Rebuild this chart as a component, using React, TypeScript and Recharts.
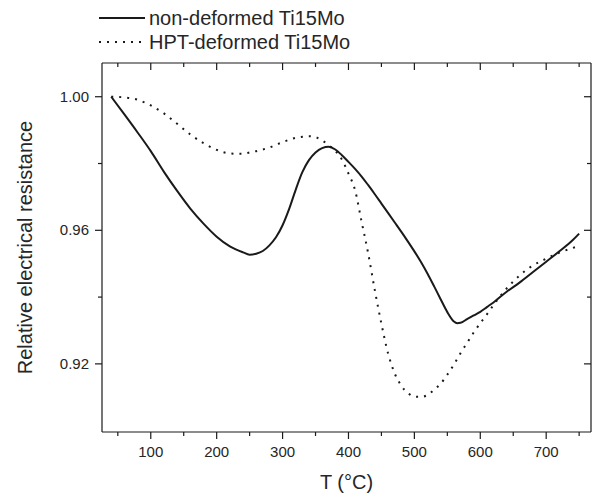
import React from 'react';
import { LineChart, Line, XAxis, YAxis, Legend } from 'recharts';

const temps = [40, 60, 80, 100, 120, 140, 160, 180, 200, 220, 240, 250, 260, 270, 280, 290, 300, 310, 320, 330, 340, 350, 360, 370, 380, 390, 400, 410, 420, 430, 440, 450, 460, 470, 480, 490, 500, 510, 520, 530, 540, 550, 560, 565, 570, 580, 590, 600, 610, 620, 640, 660, 680, 700, 720, 740, 750];

const nonDeformed = [1.0, 0.9947, 0.9893, 0.9837, 0.9775, 0.9718, 0.9665, 0.962, 0.9581, 0.9552, 0.9534, 0.9527, 0.953, 0.9538, 0.9555, 0.9579, 0.9615, 0.9664, 0.9722, 0.9774, 0.981, 0.9833, 0.9846, 0.985, 0.9842, 0.9825, 0.9805, 0.9784, 0.9761, 0.9735, 0.9708, 0.968, 0.9652, 0.9624, 0.9596, 0.9567, 0.9537, 0.9505, 0.947, 0.9432, 0.9393, 0.9355, 0.9327, 0.9322, 0.9323, 0.9334, 0.9345, 0.9356, 0.937, 0.9384, 0.9416, 0.9444, 0.9475, 0.9506, 0.9537, 0.957, 0.959];

const hptDeformed = [1.0, 0.9998, 0.9991, 0.9974, 0.995, 0.9919, 0.9887, 0.9861, 0.9841, 0.983, 0.9829, 0.9833, 0.9837, 0.9842, 0.9848, 0.9856, 0.9864, 0.9871, 0.9877, 0.988, 0.9882, 0.9879, 0.9869, 0.9855, 0.9838, 0.9812, 0.977, 0.972, 0.9625, 0.953, 0.942, 0.932, 0.9232, 0.9172, 0.9135, 0.9113, 0.9102, 0.9101, 0.9107, 0.9123, 0.9141, 0.9168, 0.9198, 0.9215, 0.9232, 0.9263, 0.9294, 0.9322, 0.9348, 0.9376, 0.9426, 0.9465, 0.9495, 0.9515, 0.9533, 0.9547, 0.9553];

const xTicks = [50, 100, 150, 200, 250, 300, 350, 400, 450, 500, 550, 600, 650, 700, 750];
const xLabels = [100, 200, 300, 400, 500, 600, 700];
const yTicks = [0.92, 0.94, 0.96, 0.98, 1.0];
const yLabels = [0.92, 0.96, 1.0];

const seriesNames = ['non-deformed Ti15Mo', 'HPT-deformed Ti15Mo'];

const data = temps.map((t, i) => ({ t, a: nonDeformed[i], b: hptDeformed[i] }));

const INK = '#1a1a1a';
const TXT = '#262626';
const FONT = 'Arial, "Liberation Sans", Helvetica, sans-serif';

const isMajorX = (v: number) => xLabels.includes(v);
const isMajorY = (v: number) => yLabels.some((l) => Math.abs(l - v) < 1e-9);

const BottomTick = (props: any) => {
  const { x, y, payload } = props;
  const v = payload.value;
  const major = isMajorX(v);
  return (
    <g>
      <line x1={x} x2={x} y1={y} y2={y + (major ? 7 : 4)} stroke={INK} strokeWidth={1.2} />
      {major && (
        <text x={x} y={y + 25} textAnchor="middle" fontSize={15} fill={TXT} fontFamily={FONT}>
          {v}
        </text>
      )}
    </g>
  );
};

const TopTick = (props: any) => {
  const { x, y, payload } = props;
  const major = isMajorX(payload.value);
  return <line x1={x} x2={x} y1={y} y2={y + (major ? 7 : 4)} stroke={INK} strokeWidth={1.2} />;
};

const LeftTick = (props: any) => {
  const { x, y, payload } = props;
  const v = payload.value;
  const major = isMajorY(v);
  return (
    <g>
      <line x1={x} x2={x - (major ? 7 : 4)} y1={y} y2={y} stroke={INK} strokeWidth={1.2} />
      {major && (
        <text x={x - 13} y={y + 5} textAnchor="end" fontSize={15} fill={TXT} fontFamily={FONT}>
          {v.toFixed(2)}
        </text>
      )}
    </g>
  );
};

const RightTick = (props: any) => {
  const { x, y, payload } = props;
  const major = isMajorY(payload.value);
  return <line x1={x} x2={x - (major ? 7 : 4)} y1={y} y2={y} stroke={INK} strokeWidth={1.2} />;
};

const LegendContent = () => (
  <div style={{ fontFamily: FONT, fontSize: 20, color: TXT, lineHeight: '24px' }}>
    {seriesNames.map((name, i) => (
      <div key={name} style={{ display: 'flex', alignItems: 'center', height: 24 }}>
        <svg width={51} height={24} style={{ display: 'block' }}>
          <line
            x1={1}
            x2={i === 0 ? 47 : 45}
            y1={12}
            y2={12}
            stroke={INK}
            strokeWidth={2}
            strokeDasharray={i === 0 ? undefined : '2 6'}
          />
        </svg>
        <span>{name}</span>
      </div>
    ))}
  </div>
);

export default function App() {
  return (
    <div style={{ position: 'absolute', left: 0, top: 0, width: 592, height: 494, background: '#fff' }}>
      <LineChart
        width={592}
        height={494}
        data={data}
        margin={{ top: 62, right: 0, bottom: 0, left: 0 }}
      >
        <XAxis
          xAxisId="bottom"
          dataKey="t"
          type="number"
          domain={[26, 768]}
          ticks={xTicks}
          interval={0}
          height={62}
          tickSize={0}
          tickMargin={0}
          tickLine={false}
          tick={<BottomTick />}
          axisLine={{ stroke: INK, strokeWidth: 1.2 }}
          allowDataOverflow
          label={{ value: 'T (°C)', position: 'insideBottom', offset: 5, fontSize: 20, fill: TXT, fontFamily: FONT }}
        />
        <XAxis
          xAxisId="top"
          orientation="top"
          dataKey="t"
          type="number"
          domain={[26, 768]}
          ticks={xTicks}
          interval={0}
          height={1}
          tickSize={0}
          tickMargin={0}
          tickLine={false}
          tick={<TopTick />}
          axisLine={{ stroke: INK, strokeWidth: 1.2 }}
          allowDataOverflow
        />
        <YAxis
          yAxisId="left"
          type="number"
          domain={[0.8996, 1.0101]}
          ticks={yTicks}
          interval={0}
          width={102}
          tickSize={0}
          tickMargin={0}
          tickLine={false}
          tick={<LeftTick />}
          axisLine={{ stroke: INK, strokeWidth: 1.2 }}
          allowDataOverflow
          label={{
            value: 'Relative electrical resistance',
            angle: -90,
            position: 'insideLeft',
            offset: 25,
            fontSize: 20,
            fill: TXT,
            fontFamily: FONT,
            style: { textAnchor: 'middle' },
          }}
        />
        <YAxis
          yAxisId="right"
          orientation="right"
          type="number"
          domain={[0.8996, 1.0101]}
          ticks={yTicks}
          interval={0}
          width={1}
          tickSize={0}
          tickMargin={0}
          tickLine={false}
          tick={<RightTick />}
          axisLine={{ stroke: INK, strokeWidth: 1.2 }}
          allowDataOverflow
        />
        <Legend
          layout="horizontal"
          verticalAlign="middle"
          align="center"
          content={<LegendContent />}
          wrapperStyle={{ position: 'absolute', left: 98, top: 6, width: 'auto' }}
        />
        <Line
          xAxisId="bottom"
          yAxisId="left"
          type="monotone"
          dataKey="a"
          name={seriesNames[0]}
          stroke={INK}
          strokeWidth={2}
          dot={false}
          activeDot={false}
          isAnimationActive={false}
        />
        <Line
          xAxisId="bottom"
          yAxisId="left"
          type="monotone"
          dataKey="b"
          name={seriesNames[1]}
          stroke={INK}
          strokeWidth={2}
          strokeDasharray="2 6"
          dot={false}
          activeDot={false}
          isAnimationActive={false}
        />
      </LineChart>
    </div>
  );
}
